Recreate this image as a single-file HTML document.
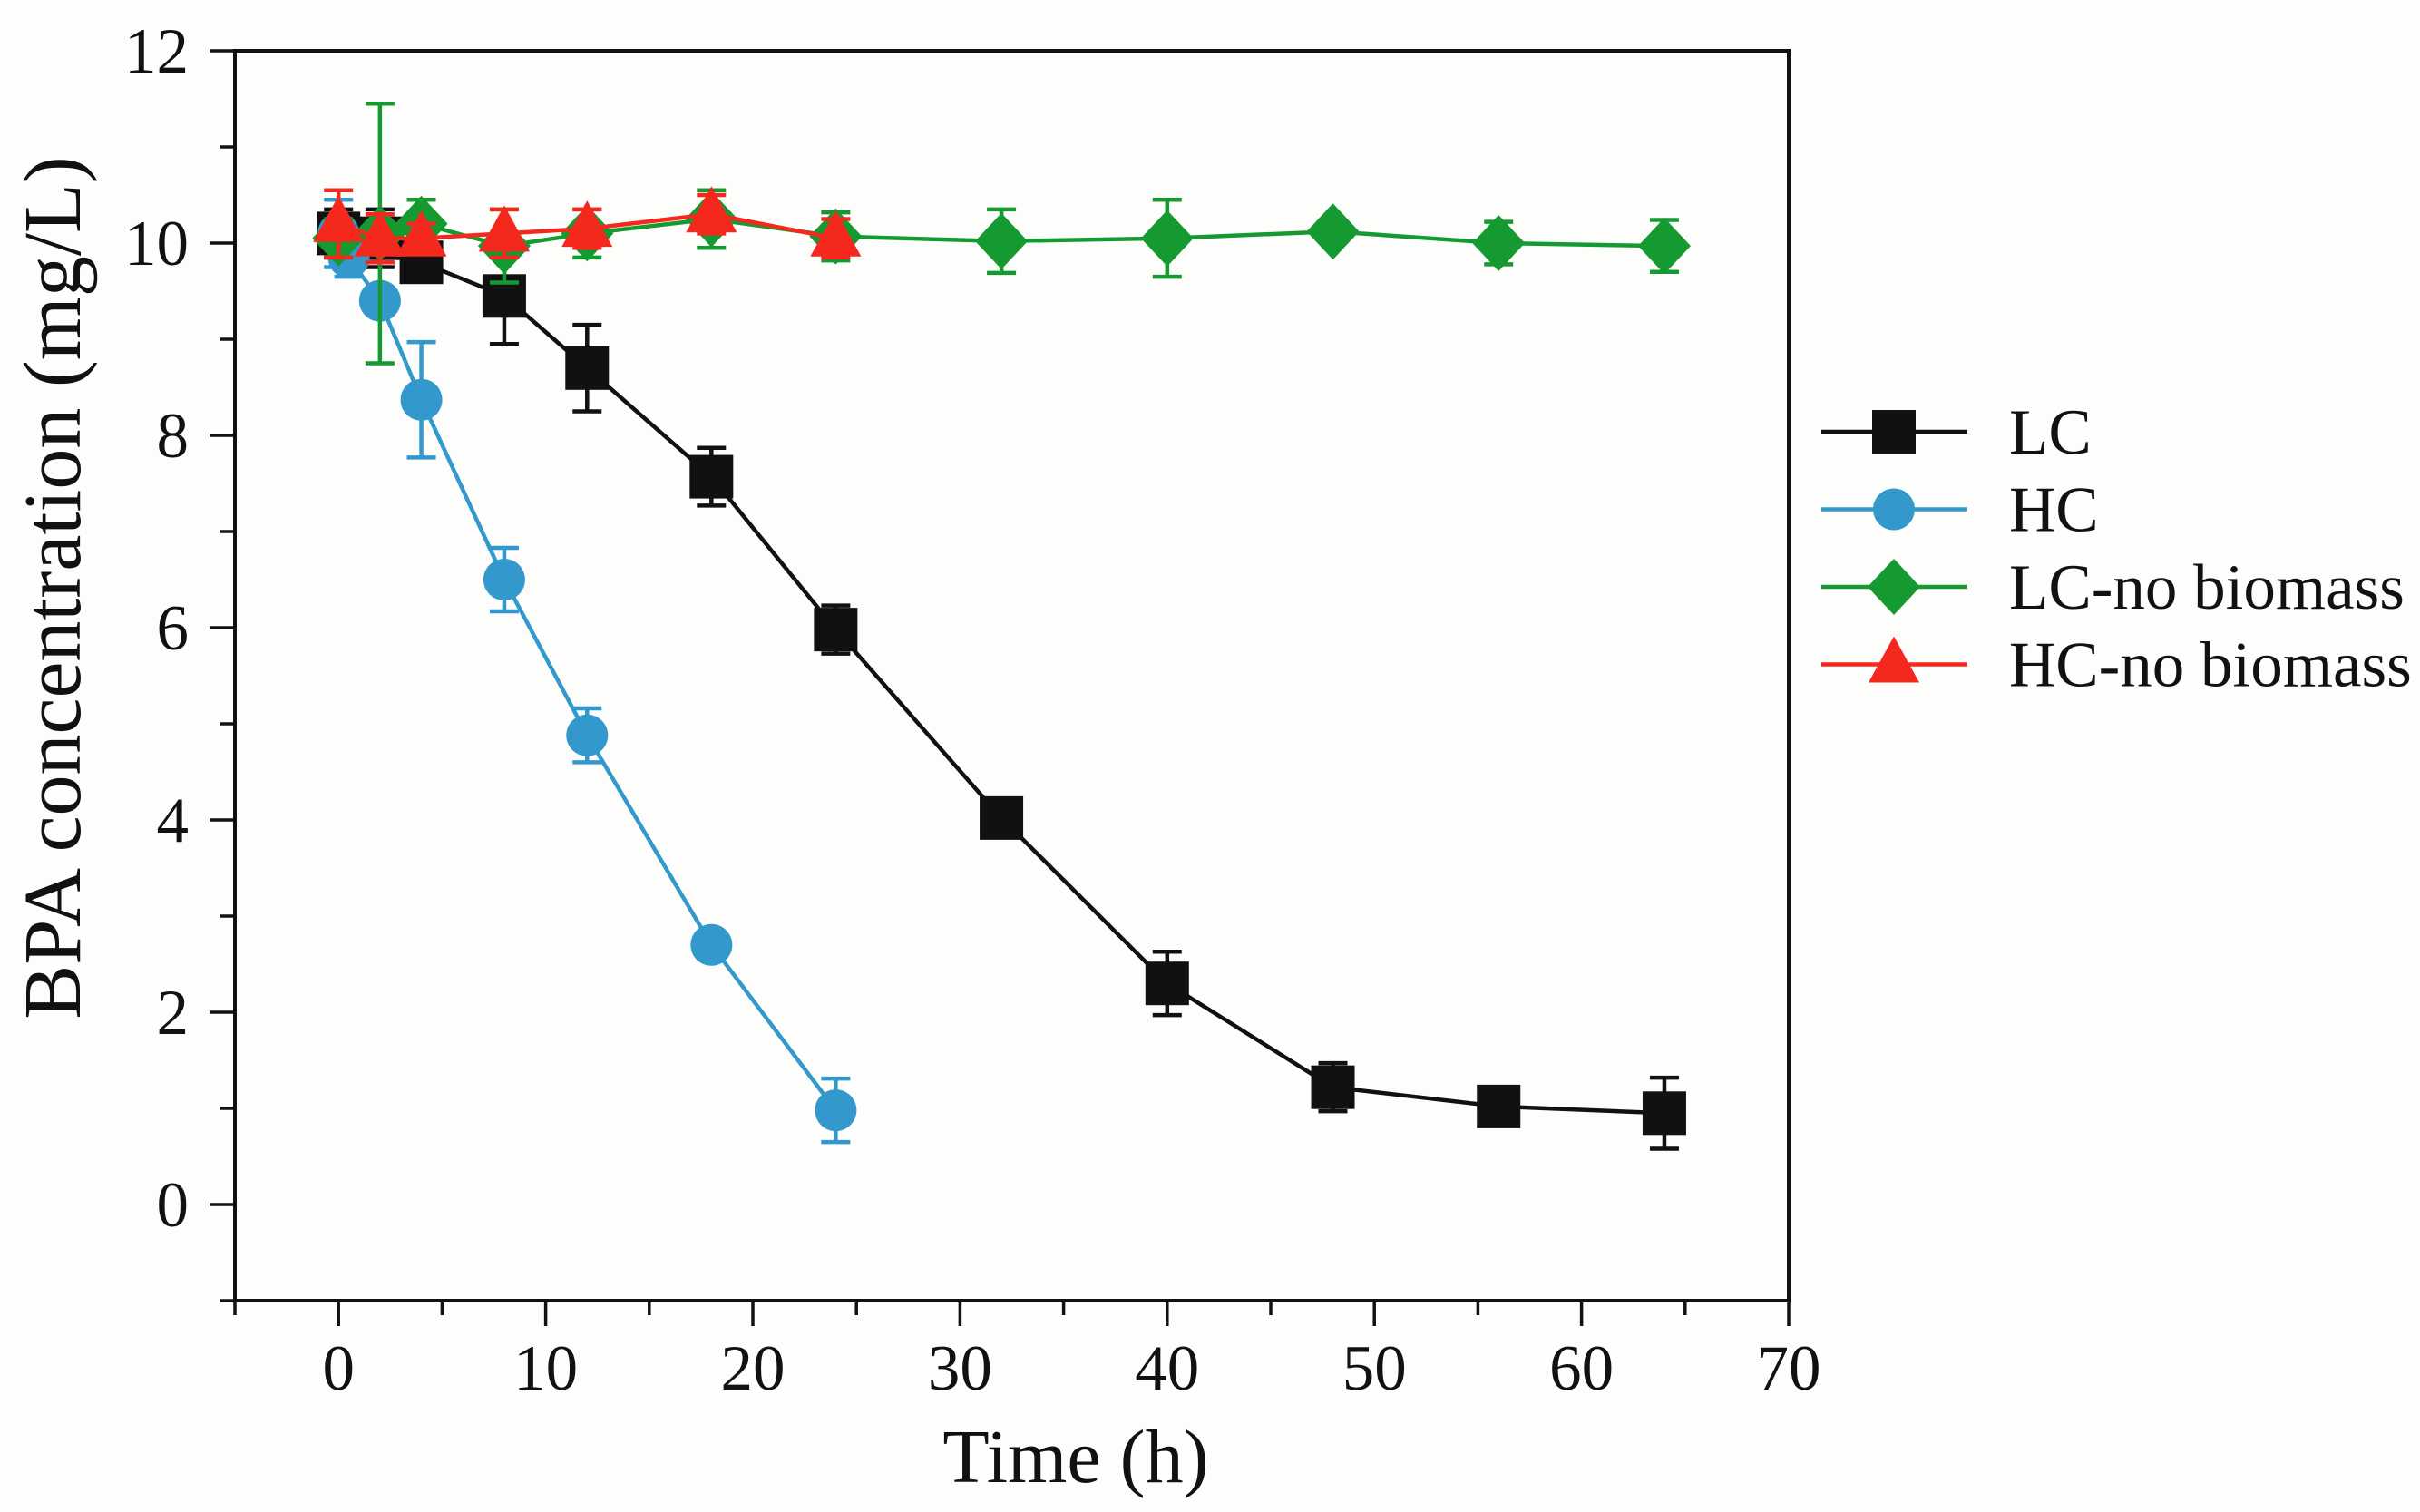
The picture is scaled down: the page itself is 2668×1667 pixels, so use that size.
<!DOCTYPE html>
<html><head><meta charset="utf-8"><style>
html,body{margin:0;padding:0;background:#fdfdfb;}
svg{display:block;font-family:"Liberation Serif",serif;}
</style></head><body>
<svg id="chart" width="2668" height="1667" viewBox="0 0 2668 1667" xmlns="http://www.w3.org/2000/svg">
<rect width="2668" height="1667" fill="#fdfdfb"/>
<g id="plot"></g>
</svg>
<script>
const xTicks=[0,10,20,30,40,50,60,70];
const yTicks=[0,2,4,6,8,10,12];
const lcX=[0,2,4,8,12,18,24,32,40,48,56,64];
const lcY=[10.1,10.05,9.8,9.45,8.7,7.57,5.98,4.02,2.3,1.22,1.02,0.95];
const lcE=[0.25,0.3,0.2,0.5,0.45,0.3,0.25,0.05,0.33,0.25,0.05,0.37];
const hcX=[0,0.5,2,4,8,12,18,24];
const hcY=[10.1,9.85,9.4,8.37,6.5,4.88,2.7,0.98];
const hcE=[0.35,0.2,0.02,0.6,0.33,0.28,0.05,0.33];
const lcnX=[0,2,4,8,12,18,24,32,40,48,56,64];
const lcnY=[10.05,10.1,10.2,9.97,10.1,10.25,10.07,10.02,10.05,10.12,10.0,9.97];
const lcnE=[0.2,1.35,0.25,0.38,0.25,0.3,0.25,0.33,0.4,0.05,0.22,0.27];
const hcnX=[0,2,4,8,12,18,24];
const hcnY=[10.2,10.05,10.05,10.1,10.15,10.3,10.05];
const hcnE=[0.35,0.25,0.15,0.25,0.2,0.2,0.2];
const legendLabels=["LC","HC","LC-no biomass","HC-no biomass"];

const NS="http://www.w3.org/2000/svg";
const L=259,R=1972,T=56,B=1434,X0=-5,X1=70,Y0=-1,Y1=12;
const sx=v=>L+(v-X0)/(X1-X0)*(R-L);
const sy=v=>B-(v-Y0)/(Y1-Y0)*(B-T);
const g=document.getElementById('plot');
function el(tag,attrs,parent){const e=document.createElementNS(NS,tag);for(const k in attrs)e.setAttribute(k,attrs[k]);(parent||g).appendChild(e);return e;}

let fr=el('rect',{x:L,y:T,width:R-L,height:B-T,fill:'none',stroke:'#111','stroke-width':4});


for(let v=-1;v<=12;v++){
  const major=v%2===0;
  const t=el('line',{x1:L,x2:L-(major?28:16),y1:sy(v),y2:sy(v),stroke:'#111','stroke-width':3.5});
  
  
}
yTicks.forEach(v=>{
  const t=el('text',{x:208,y:sy(v)+24,'text-anchor':'end','font-size':71,fill:'#111'});
  t.textContent=v;
  
  
});
for(let v=-5;v<=70;v+=5){
  const major=v%10===0;
  const t=el('line',{x1:sx(v),x2:sx(v),y1:B,y2:B+(major?28:16),stroke:'#111','stroke-width':3.5});
  
  
}
xTicks.forEach(v=>{
  const t=el('text',{x:sx(v),y:1532,'text-anchor':'middle','font-size':71,fill:'#111'});
  t.textContent=v;
  
  
});
let xt=el('text',{x:1186,y:1634,'text-anchor':'middle','font-size':84,fill:'#111'});
xt.textContent='Time (h)';


let yt=el('text',{x:0,y:0,'text-anchor':'middle','font-size':90,fill:'#111',transform:'translate(88,648) rotate(-90)'});
yt.textContent='BPA concentration (mg/L)';



function marker(type,cx,cy,color,parent){
  if(type==='square') return el('rect',{x:cx-24,y:cy-24,width:48,height:48,fill:color},parent);
  if(type==='circle') return el('circle',{cx:cx,cy:cy,r:23,fill:color},parent);
  if(type==='diamond') return el('polygon',{points:`${cx},${cy-31} ${cx+29},${cy} ${cx},${cy+31} ${cx-29},${cy}`,fill:color},parent);
  return el('polygon',{points:`${cx},${cy-31} ${cx+28},${cy+20} ${cx-28},${cy+20}`,fill:color},parent);
}
function series(name,xs,ys,es,color,type){
  const sg=el('g',{});
  
  
  const pts=xs.map((x,i)=>sx(x)+','+sy(ys[i])).join(' ');
  const pl=el('polyline',{points:pts,fill:'none',stroke:color,'stroke-width':4.5},sg);
  
  
  xs.forEach((x,i)=>{
    const cx=sx(x),t=sy(ys[i]+es[i]),b=sy(ys[i]-es[i]);
    const eb=el('path',{d:`M${cx},${t}V${b}M${cx-16},${t}H${cx+16}M${cx-16},${b}H${cx+16}`,stroke:color,'stroke-width':4.5,fill:'none'},sg);
    
    
    const m=marker(type,cx,sy(ys[i]),color,sg);
    
    
  });
}
series('lc',lcX,lcY,lcE,'#111111','square');
series('hc',hcX,hcY,hcE,'#3399cc','circle');
series('lc-no-biomass',lcnX,lcnY,lcnE,'#159a32','diamond');
series('hc-no-biomass',hcnX,hcnY,hcnE,'#f5281e','triangle');

const lcol=['#111111','#3399cc','#159a32','#f5281e'];
const ltype=['square','circle','diamond','triangle'];
legendLabels.forEach((lab,i)=>{
  const y=476+i*85.5;
  const lg=el('g',{});
  
  
  el('line',{x1:2008,x2:2169,y1:y,y2:y,stroke:lcol[i],'stroke-width':4.5},lg);
  marker(ltype[i],2088,y,lcol[i],lg);
  const t=el('text',{x:2215,y:y+24,'font-size':71,fill:'#111'},lg);
  t.textContent=lab;
});
</script>
</body></html>
